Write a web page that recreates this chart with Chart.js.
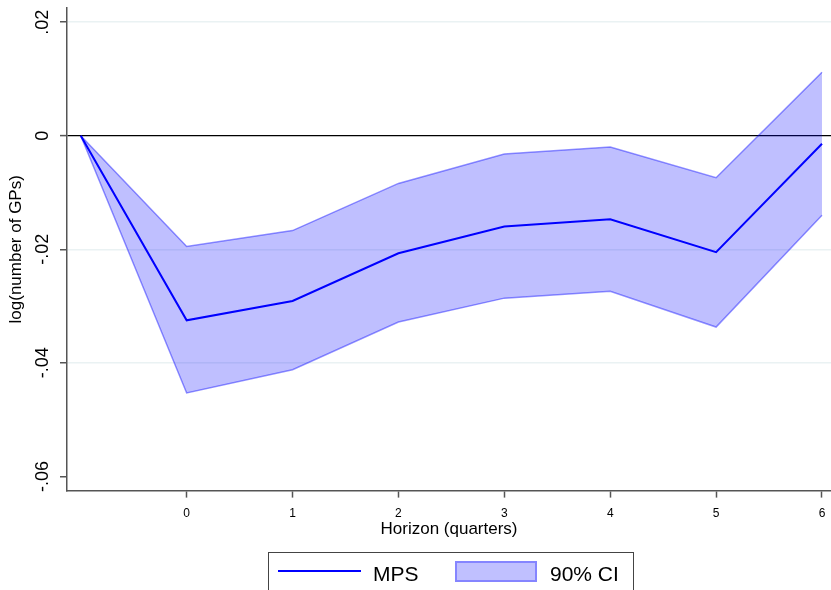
<!DOCTYPE html>
<html>
<head>
<meta charset="utf-8">
<style>
  body { margin: 0; background: #fff; overflow: hidden; font-family: "Liberation Sans", Arial, sans-serif; }
  #wrap { position: relative; width: 831px; height: 590px; }
  #legend { position: absolute; left: 268px; top: 552px; width: 366px; height: 50px; border: 1px solid #444; box-sizing: border-box; }
  #legend div, #legend span { position: absolute; }
  #legend span { font-size: 21px; line-height: 21px; color: #000; white-space: nowrap; }
</style>
</head>
<body>
<div id="wrap">
  <canvas id="irf" width="831" height="590"></canvas>
  <div id="legend">
    <div style="left:9px; top:17px; width:83px; height:2px; background:#0000ff;"></div>
    <span style="left:104px; top:10px;">MPS</span>
    <div style="left:186px; top:8px; width:82px; height:21px; background:#c0c0ff; border:2px solid #8585ff; box-sizing:border-box;"></div>
    <span style="left:281px; top:10px;">90% CI</span>
  </div>
</div>

<script src="https://cdn.jsdelivr.net/npm/chart.js"></script>
<script>
  // horizon (quarters), -1 is the pre-shock point
  var horizon = [-1, 0, 1, 2, 3, 4, 5, 6];
  var mps = [0, -0.0325, -0.0291, -0.0207, -0.0160, -0.0147, -0.0205, -0.0014];
  var ciUpper = [0, -0.0195, -0.0167, -0.0084, -0.0032, -0.0020, -0.0074, 0.0112];
  var ciLower = [0, -0.0453, -0.0412, -0.0328, -0.0286, -0.0274, -0.0337, -0.0140];

  var xTicks = [0, 1, 2, 3, 4, 5, 6];
  var yTicks = [0.02, 0, -0.02, -0.04, -0.06];
  var yTickLabels = ['.02', '0', '-.02', '-.04', '-.06'];

  function pts(vals) {
    return horizon.map(function (h, i) { return {x: h, y: vals[i]}; });
  }

  var fontFam = '"Liberation Sans", Arial, sans-serif';

  // stata style rotated y labels and title
  var yLabels = {
    id: 'yLabels',
    afterDraw: function (chart) {
      var ctx = chart.ctx;
      var ys = chart.scales.y;
      ctx.save();
      ctx.fillStyle = '#000';
      ctx.textAlign = 'center';
      ctx.textBaseline = 'middle';
      ctx.font = '18px ' + fontFam;
      yTicks.forEach(function (v, i) {
        ctx.save();
        ctx.translate(43, ys.getPixelForValue(v));
        ctx.rotate(-Math.PI / 2);
        ctx.fillText(yTickLabels[i], 0, 0);
        ctx.restore();
      });
      ctx.font = '17px ' + fontFam;
      ctx.translate(16, (chart.chartArea.top + chart.chartArea.bottom) / 2);
      ctx.rotate(-Math.PI / 2);
      ctx.fillText('log(number of GPs)', 0, 0);
      ctx.restore();
    }
  };

  var ctx = document.getElementById('irf').getContext('2d');
  var chart = new Chart(ctx, {
    type: 'line',
    data: {
      datasets: [{
        label: 'MPS',
        data: pts(mps),
        borderColor: '#0000ff',
        borderWidth: 2,
        pointRadius: 0,
        fill: false,
        tension: 0
      }, {
        label: 'lower',
        data: pts(ciLower),
        borderColor: 'rgba(0,0,255,0.42)',
        borderWidth: 1.5,
        pointRadius: 0,
        fill: false,
        tension: 0
      }, {
        label: '90% CI',
        data: pts(ciUpper),
        borderColor: 'rgba(0,0,255,0.42)',
        backgroundColor: 'rgba(0,0,255,0.25)',
        borderWidth: 1.5,
        pointRadius: 0,
        fill: 1,
        tension: 0
      }]
    },
    options: {
      responsive: false,
      animation: false,
      layout: { padding: { top: 8, left: 60, right: 0, bottom: 48 } },
      plugins: {
        legend: { display: false },
        tooltip: { enabled: false }
      },
      scales: {
        x: {
          type: 'linear',
          min: -1.13,
          max: 6.085,
          afterBuildTicks: function (scale) {
            scale.ticks = xTicks.map(function (v) { return {value: v}; });
          },
          afterFit: function (scale) {
            // labels sit well inside the plot, no side padding needed
            scale.paddingLeft = 0;
            scale.paddingRight = 0;
          },
          ticks: {
            color: '#000',
            font: { family: fontFam, size: 12 },
            padding: 9,
            maxRotation: 0
          },
          grid: {
            drawOnChartArea: false,
            drawTicks: true,
            tickLength: 7,
            tickColor: '#555',
            tickWidth: 1.5
          },
          border: { display: true, color: '#555', width: 1.5 },
          title: {
            display: true,
            text: 'Horizon (quarters)',
            color: '#000',
            font: { family: fontFam, size: 17, lineHeight: 1 },
            padding: { top: -9, bottom: 4 }
          }
        },
        y: {
          type: 'linear',
          min: -0.0625,
          max: 0.0225,
          afterBuildTicks: function (scale) {
            scale.ticks = yTicks.map(function (v) { return {value: v}; });
          },
          ticks: { display: false },
          grid: {
            drawTicks: true,
            tickLength: 7,
            tickColor: '#555',
            tickWidth: 1.5,
            lineWidth: function (c) { return c.tick && c.tick.value === 0 ? 1.2 : 1.5; },
            color: function (c) {
              if (!c.tick) return 'transparent';
              if (c.tick.value === 0) return '#000';
              if (c.tick.value === -0.06) return 'transparent';
              return '#eaf2f3';
            }
          },
          border: { display: true, color: '#555', width: 1.5 }
        }
      }
    },
    plugins: [yLabels]
  });
</script>
</body>
</html>
